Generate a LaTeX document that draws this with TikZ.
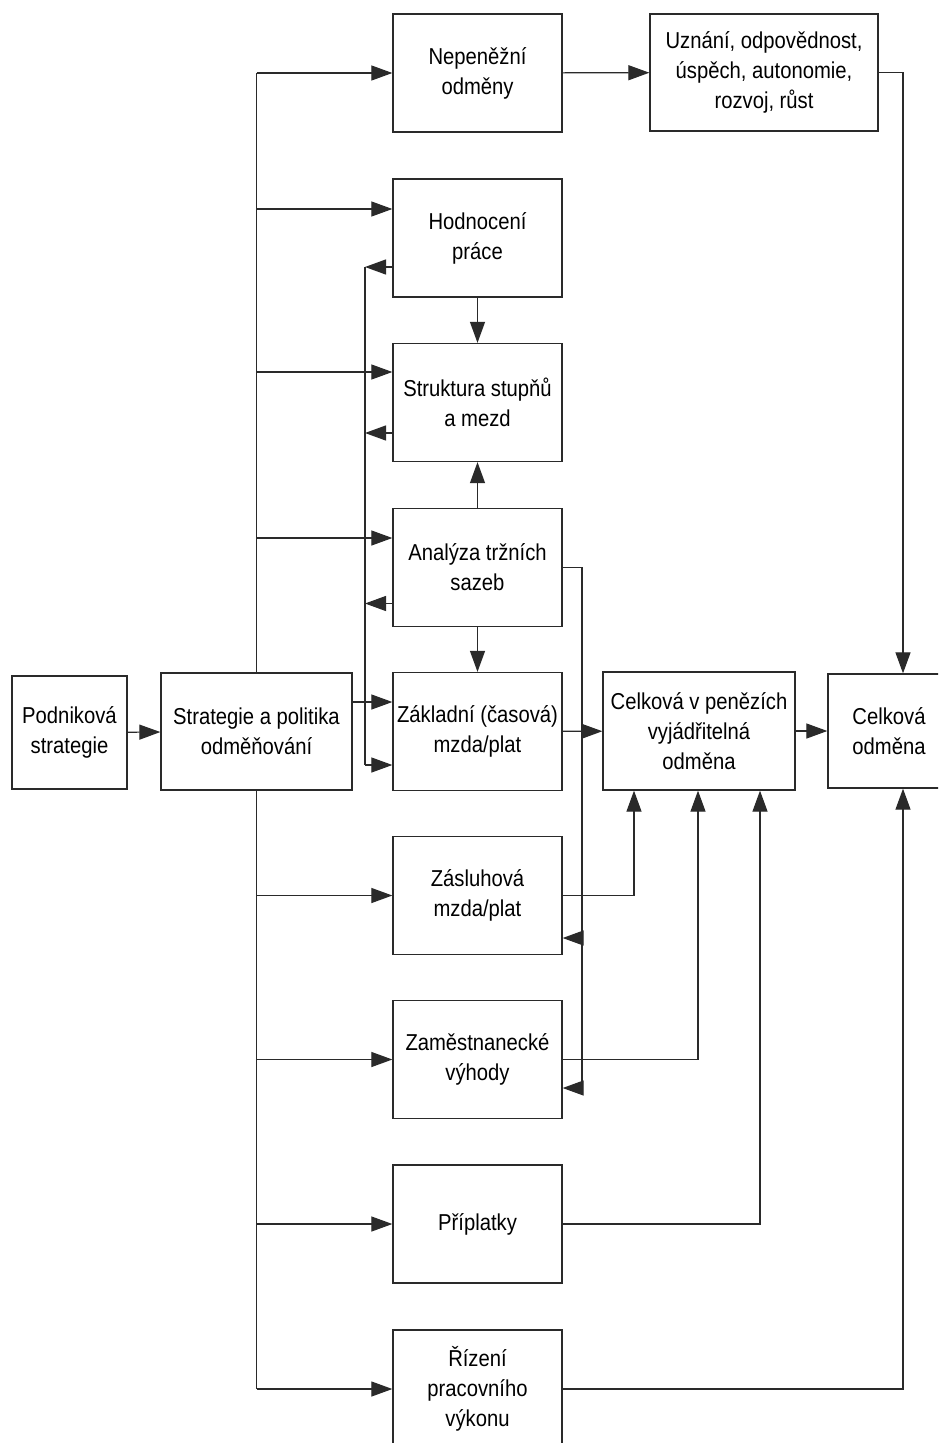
\documentclass[tikz,border=0pt]{standalone}
\usepackage{fontspec}
\setmainfont{Liberation Sans}[FakeStretch=0.88]
\usetikzlibrary{arrows.meta}
\definecolor{ink}{HTML}{2A2A2A}
\begin{document}
\begin{tikzpicture}[x=1pt,y=-1pt,
  box/.style={draw=ink,line width=1.3pt,minimum width=169pt,minimum height=118pt,align=center,inner sep=0pt,
    font=\fontsize{23}{30}\selectfont,text=black},
  ln/.style={draw=ink,line width=1.2pt},
  arr/.style={ln,-{Triangle[length=21pt,width=15pt]}}]
\useasboundingbox (0,0) rectangle (938,1443);
\clip (0,0) rectangle (938,1443);
\fill[white] (0,0) rectangle (938,1443);
% nodes
\node[box,minimum width=115pt,minimum height=113pt] (ps) at (69.5,732.5) {Podniková\\strategie};
\node[box,minimum width=191pt,minimum height=117pt] (sp) at (256.5,731.5) {Strategie a politika\\odměňování};
\node[box] (nep) at (477.5,73) {Nepeněžní\\odměny};
\node[box] (hod) at (477.5,238) {Hodnocení\\práce};
\node[box] (str) at (477.5,402.5) {Struktura stupňů\\a mezd};
\node[box] (ana) at (477.5,567.5) {Analýza tržních\\sazeb};
\node[box] (zak) at (477.5,731.5) {Základní (časová)\\mzda/plat};
\node[box] (zas) at (477.5,895.5) {Zásluhová\\mzda/plat};
\node[box] (zam) at (477.5,1059.5) {Zaměstnanecké\\výhody};
\node[box] (pri) at (477.5,1224) {Příplatky};
\node[box] (riz) at (477.5,1389) {Řízení\\pracovního\\výkonu};
\node[box,minimum width=228pt,minimum height=117pt] (uzn) at (764,72.5) {Uznání, odpovědnost,\\úspěch, autonomie,\\rozvoj, růst};
\node[box,minimum width=192pt,minimum height=118pt] (cvp) at (699,731) {Celková v penězích\\vyjádřitelná\\odměna};
\node[box,minimum width=122pt,minimum height=114pt] (co) at (889,731) {Celková\\odměna};
% helper coordinates
\coordinate (ib) at (365,0);
\coordinate (ar) at (582,0);
\coordinate (hodA) at ([yshift=29pt]hod.west);
\coordinate (strA) at ([yshift=30.5pt]str.west);
\coordinate (anaA) at ([yshift=29.5pt]ana.west);
\coordinate (zakA) at ([yshift=29.5pt]zak.west);
\coordinate (spA) at (sp.east |- zakA);
\coordinate (hodB) at ([yshift=-29pt]hod.west);
\coordinate (strB) at ([yshift=-30.5pt]str.west);
\coordinate (anaB) at ([yshift=-36pt]ana.west);
\coordinate (zakB) at ([yshift=-33.5pt]zak.west);
\coordinate (zasB) at ([yshift=-42.5pt]zas.east);
\coordinate (zamB) at ([yshift=-28.5pt]zam.east);
\coordinate (x1) at (634,0);
\coordinate (x2) at (698,0);
\coordinate (x3) at (760,0);
\coordinate (x4) at (903,0);
% main flow
\draw[arr] (ps) -- (sp);
\draw[arr] (zak) -- (cvp);
\draw[arr] (cvp) -- (co);
\draw[arr] (nep) -- (uzn);
\draw[arr] (uzn.east) -- (x4 |- uzn.east) -- (x4 |- co.north);
% left bus
\draw[ln] (sp.north) -- (sp.north |- nep.west);
\draw[ln] (sp.south) -- (sp.south |- riz.west);
\draw[arr] (sp.north |- nep.west) -- (nep.west);
\draw[arr] (sp.north |- hodA) -- (hodA);
\draw[arr] (sp.north |- strA) -- (strA);
\draw[arr] (sp.north |- anaA) -- (anaA);
\draw[arr] (spA) -- (zakA);
\draw[arr] (sp.south |- zas.west) -- (zas.west);
\draw[arr] (sp.south |- zam.west) -- (zam.west);
\draw[arr] (sp.south |- pri.west) -- (pri.west);
\draw[arr] (sp.south |- riz.west) -- (riz.west);
% inner bus
\draw[ln] (ib |- hodB) -- (ib |- zakB);
\draw[arr] (hodB) -- (ib |- hodB);
\draw[arr] (strB) -- (ib |- strB);
\draw[arr] (anaB) -- (ib |- anaB);
\draw[arr] (ib |- zakB) -- (zakB);
% vertical links in column
\draw[arr] (hod.south) -- (str.north);
\draw[arr] (ana.north) -- (str.south);
\draw[arr] (ana.south) -- (zak.north);
% right line from Analyza
\draw[ln] (ana.east) -- (ar |- ana.east) -- (ar |- zamB);
\draw[arr] (ar |- zasB) -- (zasB);
\draw[arr] (ar |- zamB) -- (zamB);
% to Celkova v penezich
\draw[arr] (zas.east) -- (x1 |- zas.east) -- (x1 |- cvp.south);
\draw[arr] (zam.east) -- (x2 |- zam.east) -- (x2 |- cvp.south);
\draw[arr] (pri.east) -- (x3 |- pri.east) -- (x3 |- cvp.south);
\draw[arr] (riz.east) -- (x4 |- riz.east) -- (x4 |- co.south);
\end{tikzpicture}
\end{document}
